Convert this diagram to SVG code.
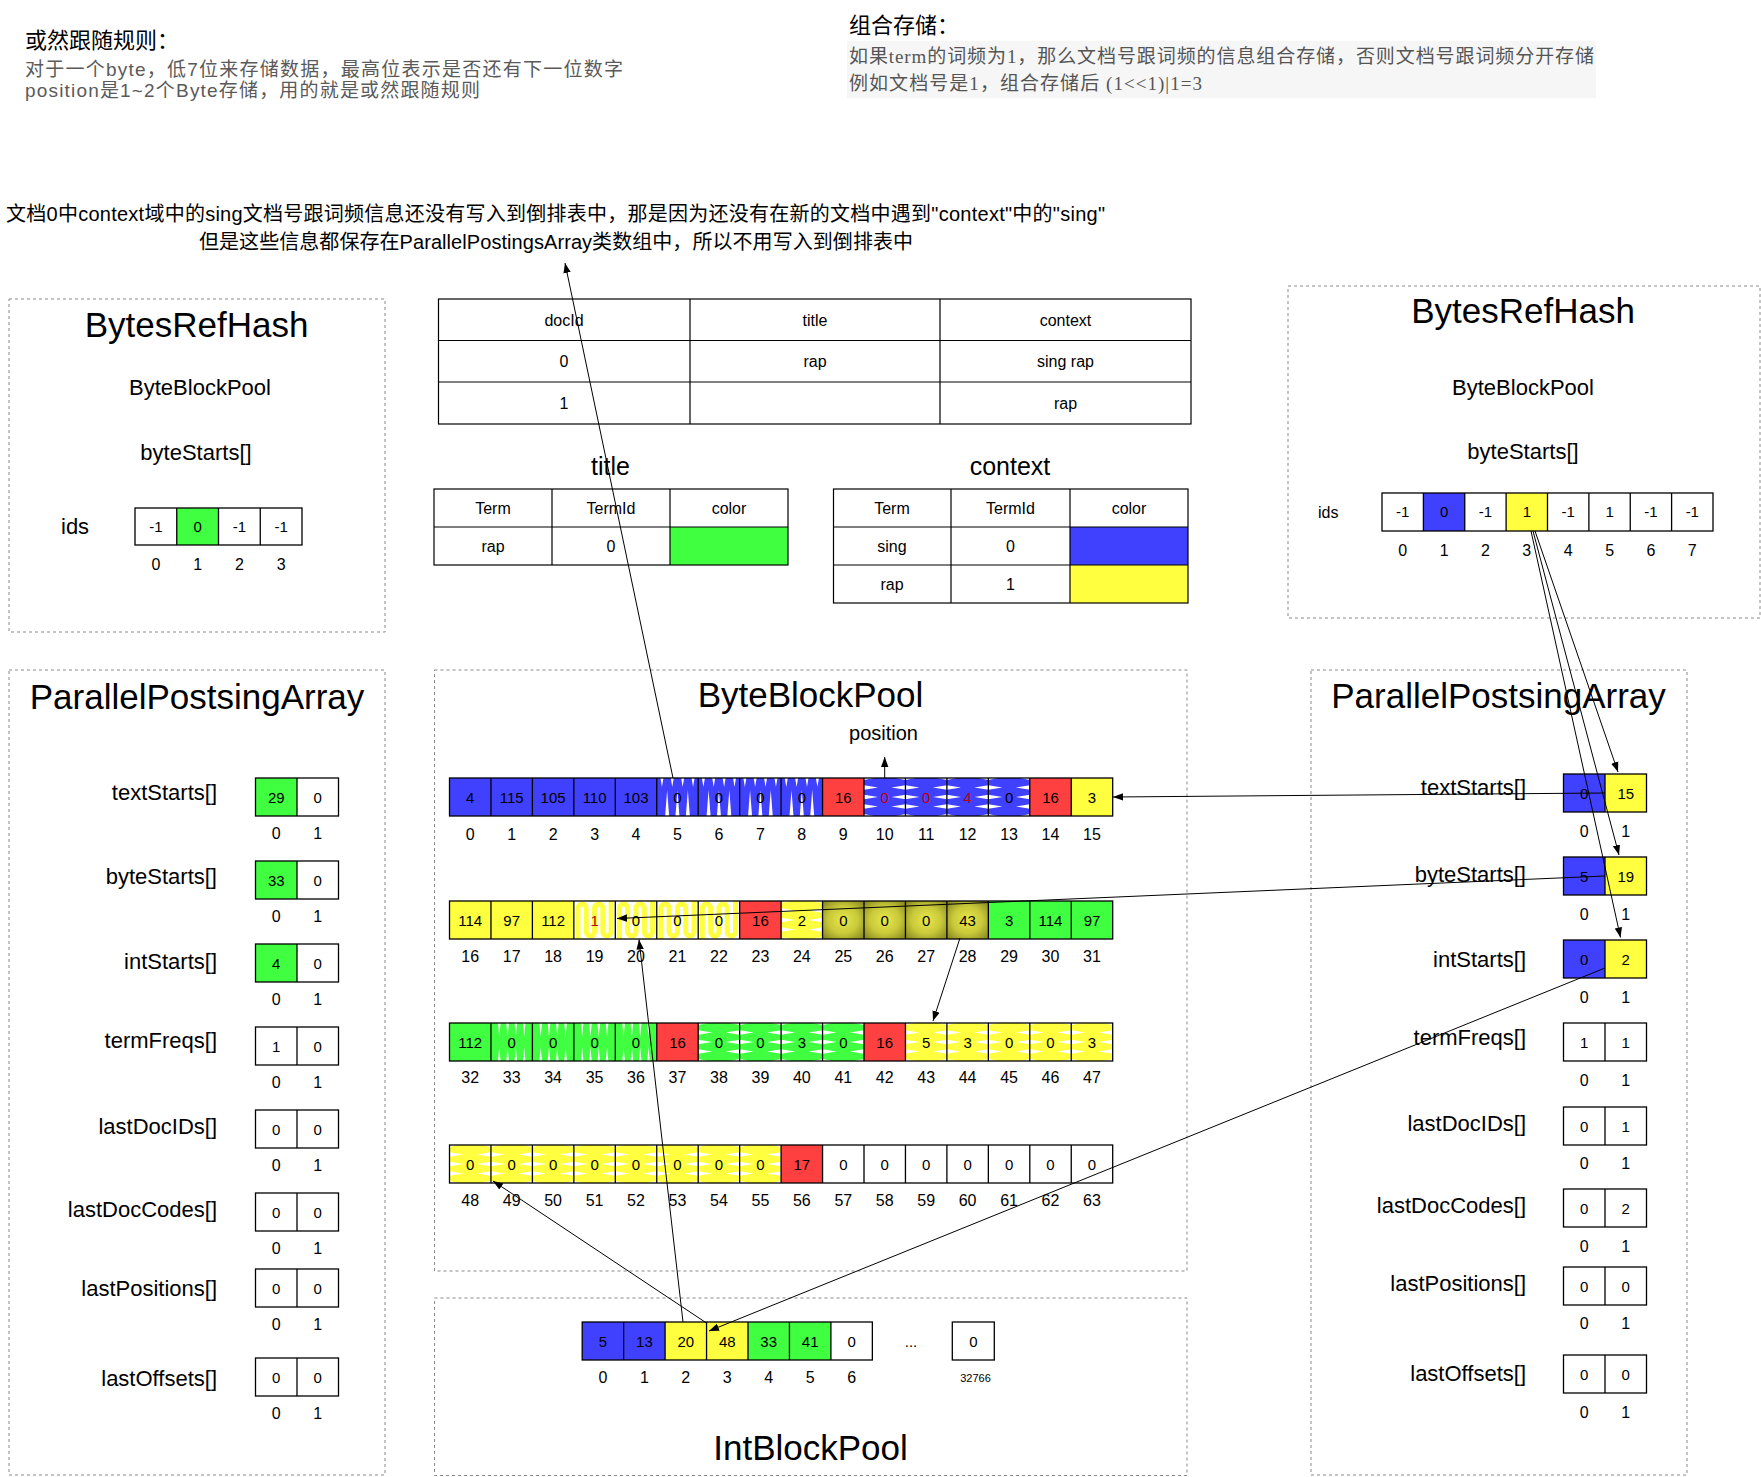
<svg xmlns="http://www.w3.org/2000/svg" width="1761" height="1477" viewBox="0 0 1761 1477">
<style>
text{font-family:"Liberation Sans",Arial,"Noto Sans CJK SC",sans-serif;fill:#000}
.cjk{font-family:"Liberation Sans","Noto Sans CJK SC",sans-serif}
.ser{font-family:"Liberation Serif","Noto Sans CJK SC",serif;fill:#555;font-size:19px}
.gr{fill:#5a5a5a;font-size:19px}
.c{fill:none;stroke:#000;stroke-width:1.3}
.tb{fill:none;stroke:#000;stroke-width:1.2}
.box{fill:none;stroke:#8a8a8a;stroke-width:1;stroke-dasharray:3 3}
.t{font-size:15px;text-anchor:middle}
.tt{font-size:16px;text-anchor:middle}
.ix{font-size:16px;text-anchor:middle}
.lb{font-size:22px;text-anchor:end}
.ttl{font-size:35px;text-anchor:middle}
.sub{font-size:22px;text-anchor:middle}
.cap{font-size:25px;text-anchor:middle}
.red{fill:#c00000}
.B{fill:#4040ff}.G{fill:#40ff40}.Y{fill:#ffff40}.R{fill:#ff4040}.O{fill:url(#olv)}
.wh{fill:#fff}
.cn{fill:none;stroke:#000;stroke-width:1;marker-end:url(#arr)}
</style>
<defs>
<marker id="arr" markerUnits="userSpaceOnUse" markerWidth="10" markerHeight="10" viewBox="0 0 10 10" refX="10" refY="5" orient="auto"><path d="M0,1.3 L10,5 L0,8.7 z" fill="#000"/></marker>
<radialGradient id="olv" cx="50%" cy="50%" r="65%"><stop offset="0" stop-color="#e8e84c"/><stop offset="0.55" stop-color="#c9c93a"/><stop offset="1" stop-color="#8c8c22"/></radialGradient>
<g id="vwedge"><path class="wh" d="M8.4,38 L10.4,12 L12.4,38Z M18.7,38 L20.7,12 L22.7,38Z M29.1,38 L31.1,12 L33.1,38Z M3.7,0 L5.2,9 L6.7,0Z M14,0 L15.5,9 L17,0Z M24.4,0 L25.9,9 L27.4,0Z M34.8,0 L36.3,9 L37.8,0Z"/></g>
<g id="hwedge"><path class="wh" d="M0,7.3 L14,9.5 L0,11.7Z M0,16.8 L14,19 L0,21.2Z M0,26.3 L14,28.5 L0,30.7Z M41.45,7.3 L27.45,9.5 L41.45,11.7Z M41.45,16.8 L27.45,19 L41.45,21.2Z M41.45,26.3 L27.45,28.5 L41.45,30.7Z M0,0 L10,0 L0,2Z M41.45,0 L31.45,0 L41.45,2Z M0,38 L10,38 L0,36Z M41.45,38 L31.45,38 L41.45,36Z"/></g>
<g id="gwedge"><path class="wh" d="M7,0 L8.3,14 L9.6,0Z M15.3,0 L16.6,14 L17.9,0Z M23.6,0 L24.9,14 L26.2,0Z M31.9,0 L33.2,14 L34.5,0Z M7,38 L8.3,24 L9.6,38Z M15.3,38 L16.6,24 L17.9,38Z M23.6,38 L24.9,24 L26.2,38Z M31.9,38 L33.2,24 L34.5,38Z"/></g>
<symbol id="vB" viewBox="0 0 41.45 38"><rect width="41.45" height="38" class="B"/><use href="#vwedge"/></symbol>
<symbol id="vG" viewBox="0 0 41.45 38"><rect width="41.45" height="38" class="G"/><use href="#gwedge"/></symbol>
<symbol id="vY" viewBox="0 0 41.45 38"><rect width="41.45" height="38" fill="#fff"/><path d="M4.1,40 V7.2 A4.15,4.15 0 0 1 12.4,7.2 V30.8 A4.15,4.15 0 0 0 20.7,30.8 V7.2 A4.15,4.15 0 0 1 29,7.2 V30.8 A4.15,4.15 0 0 0 37.3,30.8 V-2" fill="none" stroke="#ffff40" stroke-width="5"/></symbol>
<symbol id="hB" viewBox="0 0 41.45 38"><rect width="41.45" height="38" class="B"/><use href="#hwedge"/></symbol>
<symbol id="hG" viewBox="0 0 41.45 38"><rect width="41.45" height="38" class="G"/><use href="#hwedge"/></symbol>
<symbol id="hY" viewBox="0 0 41.45 38"><rect width="41.45" height="38" class="Y"/><use href="#hwedge"/></symbol>
<g id="divs"><rect class="c" x="449.5" y="0" width="663.2" height="38"/><path class="c" d="M490.95 0v38M532.4 0v38M573.85 0v38M615.3 0v38M656.75 0v38M698.2 0v38M739.65 0v38M781.1 0v38M822.55 0v38M864 0v38M905.45 0v38M946.9 0v38M988.35 0v38M1029.8 0v38M1071.25 0v38"/></g>
<g id="pair"><rect class="c" x="0" y="0" width="83" height="38"/><path class="c" d="M41.5 0v38"/></g>
</defs>

<rect width="1761" height="1477" fill="#fff"/>

<g id="note-left">
<text class="cjk" x="25" y="48" font-size="22" fill="#1a1a1a">或然跟随规则：</text>
<text class="cjk gr" x="25" y="76" textLength="598" lengthAdjust="spacing">对于一个byte，低7位来存储数据，最高位表示是否还有下一位数字</text>
<text class="cjk gr" x="25" y="97" textLength="455" lengthAdjust="spacing">position是1~2个Byte存储，用的就是或然跟随规则</text>
</g>

<g id="note-right">
<text class="cjk" x="849" y="33" font-size="22" fill="#1a1a1a">组合存储：</text>
<rect x="847" y="41" width="749" height="57" fill="#f6f6f6"/>
<text class="ser" x="849" y="63" textLength="745" lengthAdjust="spacing">如果term的词频为1，那么文档号跟词频的信息组合存储，否则文档号跟词频分开存储</text>
<text class="ser" x="849" y="90" textLength="353" lengthAdjust="spacing">例如文档号是1，组合存储后 (1&lt;&lt;1)|1=3</text>
</g>

<g id="note-center">
<text class="cjk" x="6" y="221" font-size="20" textLength="1099" lengthAdjust="spacing">文档0中context域中的sing文档号跟词频信息还没有写入到倒排表中，那是因为还没有在新的文档中遇到"context"中的"sing"</text>
<text class="cjk" x="199" y="249" font-size="20" textLength="714" lengthAdjust="spacing">但是这些信息都保存在ParallelPostingsArray类数组中，所以不用写入到倒排表中</text>
</g>

<g id="doc-table">
<rect class="tb" x="438.5" y="299" width="752.5" height="125"/>
<path class="tb" d="M438.5 340.5H1191M438.5 382H1191M690 299v125M940 299v125"/>
<text class="tt" x="564" y="325.5">docId</text>
<text class="tt" x="815" y="325.5">title</text>
<text class="tt" x="1065.5" y="325.5">context</text>
<text class="tt" x="564" y="367">0</text>
<text class="tt" x="815" y="367">rap</text>
<text class="tt" x="1065.5" y="367">sing rap</text>
<text class="tt" x="564" y="408.5">1</text>
<text class="tt" x="1065.5" y="408.5">rap</text>
</g>

<g id="title-table">
<text class="cap" x="610.5" y="475">title</text>
<rect class="G" x="670" y="527" width="118" height="38"/>
<rect class="tb" x="434" y="489" width="354" height="76"/>
<path class="tb" d="M434 527H788M552 489v76M670 489v76"/>
<text class="tt" x="493" y="513.5">Term</text>
<text class="tt" x="611" y="513.5">TermId</text>
<text class="tt" x="729" y="513.5">color</text>
<text class="tt" x="493" y="551.5">rap</text>
<text class="tt" x="611" y="551.5">0</text>
</g>

<g id="context-table">
<text class="cap" x="1010" y="475">context</text>
<rect class="B" x="1070" y="527" width="118" height="38"/>
<rect class="Y" x="1070" y="565" width="118" height="38"/>
<rect class="tb" x="833.5" y="489" width="354.5" height="114"/>
<path class="tb" d="M833.5 527H1188M833.5 565H1188M951 489v114M1070 489v114"/>
<text class="tt" x="892" y="513.5">Term</text>
<text class="tt" x="1010.5" y="513.5">TermId</text>
<text class="tt" x="1129" y="513.5">color</text>
<text class="tt" x="892" y="551.5">sing</text>
<text class="tt" x="1010.5" y="551.5">0</text>
<text class="tt" x="892" y="589.5">rap</text>
<text class="tt" x="1010.5" y="589.5">1</text>
</g>

<g id="bytesrefhash-left">
<rect class="box" x="9" y="299" width="376" height="333"/>
<text class="ttl" x="196.5" y="337">BytesRefHash</text>
<text class="sub" x="200" y="395">ByteBlockPool</text>
<text class="sub" x="196" y="460">byteStarts[]</text>
<text x="61" y="534" font-size="22">ids</text>
<rect class="G" x="176.75" y="508" width="41.75" height="37"/>
<rect class="c" x="135" y="508" width="167" height="37"/>
<path class="c" d="M176.75 508v37M218.5 508v37M260.25 508v37"/>
<text class="t" x="155.9" y="532">-1</text>
<text class="t" x="197.6" y="532">0</text>
<text class="t" x="239.4" y="532">-1</text>
<text class="t" x="281.1" y="532">-1</text>
<text class="ix" x="155.9" y="570">0</text>
<text class="ix" x="197.6" y="570">1</text>
<text class="ix" x="239.4" y="570">2</text>
<text class="ix" x="281.1" y="570">3</text>
</g>

<g id="bytesrefhash-right">
<rect class="box" x="1288" y="286" width="472" height="332"/>
<text class="ttl" x="1523" y="323">BytesRefHash</text>
<text class="sub" x="1523" y="395">ByteBlockPool</text>
<text class="sub" x="1523" y="459">byteStarts[]</text>
<text x="1318" y="518" font-size="16">ids</text>
<rect class="B" x="1423.4" y="493" width="41.35" height="38"/>
<rect class="Y" x="1506.1" y="493" width="41.4" height="38"/>
<rect class="c" x="1382" y="493" width="331" height="38"/>
<path class="c" d="M1423.4 493v38M1464.75 493v38M1506.1 493v38M1547.5 493v38M1588.9 493v38M1630.25 493v38M1671.6 493v38"/>
<text class="t" x="1402.7" y="517">-1</text>
<text class="t" x="1444.1" y="517">0</text>
<text class="t" x="1485.4" y="517">-1</text>
<text class="t" x="1526.8" y="517">1</text>
<text class="t" x="1568.2" y="517">-1</text>
<text class="t" x="1609.6" y="517">1</text>
<text class="t" x="1650.9" y="517">-1</text>
<text class="t" x="1692.3" y="517">-1</text>
<text class="ix" x="1402.7" y="556">0</text>
<text class="ix" x="1444.1" y="556">1</text>
<text class="ix" x="1485.4" y="556">2</text>
<text class="ix" x="1526.8" y="556">3</text>
<text class="ix" x="1568.2" y="556">4</text>
<text class="ix" x="1609.6" y="556">5</text>
<text class="ix" x="1650.9" y="556">6</text>
<text class="ix" x="1692.3" y="556">7</text>
</g>

<g id="ppa-left">
<rect class="box" x="9" y="670" width="376" height="805"/>
<text class="ttl" x="197" y="709">ParallelPostsingArray</text>
<rect class="G" x="255.5" y="778" width="41.5" height="38"/>
<rect class="G" x="255.5" y="861" width="41.5" height="38"/>
<rect class="G" x="255.5" y="944" width="41.5" height="38"/>
<use href="#pair" x="255.5" y="778"/>
<use href="#pair" x="255.5" y="861"/>
<use href="#pair" x="255.5" y="944"/>
<use href="#pair" x="255.5" y="1027"/>
<use href="#pair" x="255.5" y="1110"/>
<use href="#pair" x="255.5" y="1193"/>
<use href="#pair" x="255.5" y="1269"/>
<use href="#pair" x="255.5" y="1358"/>
<text class="lb" x="217" y="800">textStarts[]</text>
<text class="lb" x="217" y="884">byteStarts[]</text>
<text class="lb" x="217" y="969">intStarts[]</text>
<text class="lb" x="217" y="1048">termFreqs[]</text>
<text class="lb" x="217" y="1134">lastDocIDs[]</text>
<text class="lb" x="217" y="1217">lastDocCodes[]</text>
<text class="lb" x="217" y="1296">lastPositions[]</text>
<text class="lb" x="217" y="1386">lastOffsets[]</text>
<text class="t" x="276.25" y="802.5">29</text><text class="t" x="317.75" y="802.5">0</text>
<text class="t" x="276.25" y="885.5">33</text><text class="t" x="317.75" y="885.5">0</text>
<text class="t" x="276.25" y="968.5">4</text><text class="t" x="317.75" y="968.5">0</text>
<text class="t" x="276.25" y="1051.5">1</text><text class="t" x="317.75" y="1051.5">0</text>
<text class="t" x="276.25" y="1134.5">0</text><text class="t" x="317.75" y="1134.5">0</text>
<text class="t" x="276.25" y="1217.5">0</text><text class="t" x="317.75" y="1217.5">0</text>
<text class="t" x="276.25" y="1293.5">0</text><text class="t" x="317.75" y="1293.5">0</text>
<text class="t" x="276.25" y="1382.5">0</text><text class="t" x="317.75" y="1382.5">0</text>
<text class="ix" x="276.25" y="839">0</text><text class="ix" x="317.75" y="839">1</text>
<text class="ix" x="276.25" y="922">0</text><text class="ix" x="317.75" y="922">1</text>
<text class="ix" x="276.25" y="1005">0</text><text class="ix" x="317.75" y="1005">1</text>
<text class="ix" x="276.25" y="1088">0</text><text class="ix" x="317.75" y="1088">1</text>
<text class="ix" x="276.25" y="1171">0</text><text class="ix" x="317.75" y="1171">1</text>
<text class="ix" x="276.25" y="1254">0</text><text class="ix" x="317.75" y="1254">1</text>
<text class="ix" x="276.25" y="1330">0</text><text class="ix" x="317.75" y="1330">1</text>
<text class="ix" x="276.25" y="1419">0</text><text class="ix" x="317.75" y="1419">1</text>
</g>

<g id="ppa-right">
<rect class="box" x="1311" y="670" width="376" height="805"/>
<text class="ttl" x="1498.5" y="708">ParallelPostsingArray</text>
<rect class="B" x="1563.5" y="774" width="41.5" height="38"/><rect class="Y" x="1605" y="774" width="41.5" height="38"/>
<rect class="B" x="1563.5" y="857" width="41.5" height="38"/><rect class="Y" x="1605" y="857" width="41.5" height="38"/>
<rect class="B" x="1563.5" y="940" width="41.5" height="38"/><rect class="Y" x="1605" y="940" width="41.5" height="38"/>
<use href="#pair" x="1563.5" y="774"/>
<use href="#pair" x="1563.5" y="857"/>
<use href="#pair" x="1563.5" y="940"/>
<use href="#pair" x="1563.5" y="1023"/>
<use href="#pair" x="1563.5" y="1107"/>
<use href="#pair" x="1563.5" y="1189"/>
<use href="#pair" x="1563.5" y="1267"/>
<use href="#pair" x="1563.5" y="1355"/>
<text class="lb" x="1526" y="795">textStarts[]</text>
<text class="lb" x="1526" y="882">byteStarts[]</text>
<text class="lb" x="1526" y="967">intStarts[]</text>
<text class="lb" x="1526" y="1045">termFreqs[]</text>
<text class="lb" x="1526" y="1131">lastDocIDs[]</text>
<text class="lb" x="1526" y="1213">lastDocCodes[]</text>
<text class="lb" x="1526" y="1291">lastPositions[]</text>
<text class="lb" x="1526" y="1381">lastOffsets[]</text>
<text class="t" x="1584.25" y="798.5">0</text><text class="t" x="1625.75" y="798.5">15</text>
<text class="t" x="1584.25" y="881.5">5</text><text class="t" x="1625.75" y="881.5">19</text>
<text class="t" x="1584.25" y="964.5">0</text><text class="t" x="1625.75" y="964.5">2</text>
<text class="t" x="1584.25" y="1047.5">1</text><text class="t" x="1625.75" y="1047.5">1</text>
<text class="t" x="1584.25" y="1131.5">0</text><text class="t" x="1625.75" y="1131.5">1</text>
<text class="t" x="1584.25" y="1213.5">0</text><text class="t" x="1625.75" y="1213.5">2</text>
<text class="t" x="1584.25" y="1291.5">0</text><text class="t" x="1625.75" y="1291.5">0</text>
<text class="t" x="1584.25" y="1379.5">0</text><text class="t" x="1625.75" y="1379.5">0</text>
<text class="ix" x="1584.25" y="837">0</text><text class="ix" x="1625.75" y="837">1</text>
<text class="ix" x="1584.25" y="920">0</text><text class="ix" x="1625.75" y="920">1</text>
<text class="ix" x="1584.25" y="1003">0</text><text class="ix" x="1625.75" y="1003">1</text>
<text class="ix" x="1584.25" y="1086">0</text><text class="ix" x="1625.75" y="1086">1</text>
<text class="ix" x="1584.25" y="1169">0</text><text class="ix" x="1625.75" y="1169">1</text>
<text class="ix" x="1584.25" y="1252">0</text><text class="ix" x="1625.75" y="1252">1</text>
<text class="ix" x="1584.25" y="1329">0</text><text class="ix" x="1625.75" y="1329">1</text>
<text class="ix" x="1584.25" y="1418">0</text><text class="ix" x="1625.75" y="1418">1</text>
</g>

<g id="byteblockpool">
<rect class="box" x="434.5" y="670" width="752.5" height="601"/>
<text class="ttl" x="810.5" y="707">ByteBlockPool</text>
<text x="883.5" y="740" font-size="20" text-anchor="middle">position</text>
<rect class="B" x="449.5" y="778" width="207.25" height="38"/>
<use href="#vB" x="656.75" y="778" width="41.45" height="38"/>
<use href="#vB" x="698.2" y="778" width="41.45" height="38"/>
<use href="#vB" x="739.65" y="778" width="41.45" height="38"/>
<use href="#vB" x="781.1" y="778" width="41.45" height="38"/>
<rect class="R" x="822.55" y="778" width="41.45" height="38"/>
<use href="#hB" x="864" y="778" width="41.45" height="38"/>
<use href="#hB" x="905.45" y="778" width="41.45" height="38"/>
<use href="#hB" x="946.9" y="778" width="41.45" height="38"/>
<use href="#hB" x="988.35" y="778" width="41.45" height="38"/>
<rect class="R" x="1029.8" y="778" width="41.45" height="38"/>
<rect class="Y" x="1071.25" y="778" width="41.45" height="38"/>
<use href="#divs" y="778"/>
<text class="t" x="470.2" y="802.5">4</text><text class="t" x="511.7" y="802.5">115</text><text class="t" x="553.1" y="802.5">105</text><text class="t" x="594.6" y="802.5">110</text><text class="t" x="636" y="802.5">103</text><text class="t" x="677.5" y="802.5">0</text><text class="t" x="718.9" y="802.5">0</text><text class="t" x="760.4" y="802.5">0</text><text class="t" x="801.8" y="802.5">0</text><text class="t" x="843.3" y="802.5">16</text><text class="t red" x="884.7" y="802.5">0</text><text class="t red" x="926.2" y="802.5">0</text><text class="t red" x="967.6" y="802.5">4</text><text class="t" x="1009.1" y="802.5">0</text><text class="t" x="1050.5" y="802.5">16</text><text class="t" x="1092" y="802.5">3</text>
<text class="ix" x="470.2" y="840">0</text><text class="ix" x="511.7" y="840">1</text><text class="ix" x="553.1" y="840">2</text><text class="ix" x="594.6" y="840">3</text><text class="ix" x="636" y="840">4</text><text class="ix" x="677.5" y="840">5</text><text class="ix" x="718.9" y="840">6</text><text class="ix" x="760.4" y="840">7</text><text class="ix" x="801.8" y="840">8</text><text class="ix" x="843.3" y="840">9</text><text class="ix" x="884.7" y="840">10</text><text class="ix" x="926.2" y="840">11</text><text class="ix" x="967.6" y="840">12</text><text class="ix" x="1009.1" y="840">13</text><text class="ix" x="1050.5" y="840">14</text><text class="ix" x="1092" y="840">15</text>
<rect class="Y" x="449.5" y="901" width="124.35" height="38"/>
<use href="#vY" x="573.85" y="901" width="41.45" height="38"/>
<use href="#vY" x="615.3" y="901" width="41.45" height="38"/>
<use href="#vY" x="656.75" y="901" width="41.45" height="38"/>
<use href="#vY" x="698.2" y="901" width="41.45" height="38"/>
<rect class="R" x="739.65" y="901" width="41.45" height="38"/>
<use href="#hY" x="781.1" y="901" width="41.45" height="38"/>
<rect class="O" x="822.55" y="901" width="41.45" height="38"/>
<rect class="O" x="864" y="901" width="41.45" height="38"/>
<rect class="O" x="905.45" y="901" width="41.45" height="38"/>
<rect class="O" x="946.9" y="901" width="41.45" height="38"/>
<rect class="G" x="988.35" y="901" width="124.35" height="38"/>
<use href="#divs" y="901"/>
<text class="t" x="470.2" y="925.5">114</text><text class="t" x="511.7" y="925.5">97</text><text class="t" x="553.1" y="925.5">112</text><text class="t red" x="594.6" y="925.5">1</text><text class="t" x="636" y="925.5">0</text><text class="t" x="677.5" y="925.5">0</text><text class="t" x="718.9" y="925.5">0</text><text class="t" x="760.4" y="925.5">16</text><text class="t" x="801.8" y="925.5">2</text><text class="t" x="843.3" y="925.5">0</text><text class="t" x="884.7" y="925.5">0</text><text class="t" x="926.2" y="925.5">0</text><text class="t" x="967.6" y="925.5">43</text><text class="t" x="1009.1" y="925.5">3</text><text class="t" x="1050.5" y="925.5">114</text><text class="t" x="1092" y="925.5">97</text>
<text class="ix" x="470.2" y="962">16</text><text class="ix" x="511.7" y="962">17</text><text class="ix" x="553.1" y="962">18</text><text class="ix" x="594.6" y="962">19</text><text class="ix" x="636" y="962">20</text><text class="ix" x="677.5" y="962">21</text><text class="ix" x="718.9" y="962">22</text><text class="ix" x="760.4" y="962">23</text><text class="ix" x="801.8" y="962">24</text><text class="ix" x="843.3" y="962">25</text><text class="ix" x="884.7" y="962">26</text><text class="ix" x="926.2" y="962">27</text><text class="ix" x="967.6" y="962">28</text><text class="ix" x="1009.1" y="962">29</text><text class="ix" x="1050.5" y="962">30</text><text class="ix" x="1092" y="962">31</text>
<rect class="G" x="449.5" y="1023" width="41.45" height="38"/>
<use href="#vG" x="490.95" y="1023" width="41.45" height="38"/>
<use href="#vG" x="532.4" y="1023" width="41.45" height="38"/>
<use href="#vG" x="573.85" y="1023" width="41.45" height="38"/>
<use href="#vG" x="615.3" y="1023" width="41.45" height="38"/>
<rect class="R" x="656.75" y="1023" width="41.45" height="38"/>
<use href="#hG" x="698.2" y="1023" width="41.45" height="38"/>
<use href="#hG" x="739.65" y="1023" width="41.45" height="38"/>
<use href="#hG" x="781.1" y="1023" width="41.45" height="38"/>
<use href="#hG" x="822.55" y="1023" width="41.45" height="38"/>
<rect class="R" x="864" y="1023" width="41.45" height="38"/>
<use href="#hY" x="905.45" y="1023" width="41.45" height="38"/>
<use href="#hY" x="946.9" y="1023" width="41.45" height="38"/>
<use href="#hY" x="988.35" y="1023" width="41.45" height="38"/>
<use href="#hY" x="1029.8" y="1023" width="41.45" height="38"/>
<use href="#hY" x="1071.25" y="1023" width="41.45" height="38"/>
<use href="#divs" y="1023"/>
<text class="t" x="470.2" y="1047.5">112</text><text class="t" x="511.7" y="1047.5">0</text><text class="t" x="553.1" y="1047.5">0</text><text class="t" x="594.6" y="1047.5">0</text><text class="t" x="636" y="1047.5">0</text><text class="t" x="677.5" y="1047.5">16</text><text class="t" x="718.9" y="1047.5">0</text><text class="t" x="760.4" y="1047.5">0</text><text class="t" x="801.8" y="1047.5">3</text><text class="t" x="843.3" y="1047.5">0</text><text class="t" x="884.7" y="1047.5">16</text><text class="t" x="926.2" y="1047.5">5</text><text class="t" x="967.6" y="1047.5">3</text><text class="t" x="1009.1" y="1047.5">0</text><text class="t" x="1050.5" y="1047.5">0</text><text class="t" x="1092" y="1047.5">3</text>
<text class="ix" x="470.2" y="1083">32</text><text class="ix" x="511.7" y="1083">33</text><text class="ix" x="553.1" y="1083">34</text><text class="ix" x="594.6" y="1083">35</text><text class="ix" x="636" y="1083">36</text><text class="ix" x="677.5" y="1083">37</text><text class="ix" x="718.9" y="1083">38</text><text class="ix" x="760.4" y="1083">39</text><text class="ix" x="801.8" y="1083">40</text><text class="ix" x="843.3" y="1083">41</text><text class="ix" x="884.7" y="1083">42</text><text class="ix" x="926.2" y="1083">43</text><text class="ix" x="967.6" y="1083">44</text><text class="ix" x="1009.1" y="1083">45</text><text class="ix" x="1050.5" y="1083">46</text><text class="ix" x="1092" y="1083">47</text>
<use href="#hY" x="449.5" y="1145" width="41.45" height="38"/>
<use href="#hY" x="490.95" y="1145" width="41.45" height="38"/>
<use href="#hY" x="532.4" y="1145" width="41.45" height="38"/>
<use href="#hY" x="573.85" y="1145" width="41.45" height="38"/>
<use href="#hY" x="615.3" y="1145" width="41.45" height="38"/>
<use href="#hY" x="656.75" y="1145" width="41.45" height="38"/>
<use href="#hY" x="698.2" y="1145" width="41.45" height="38"/>
<use href="#hY" x="739.65" y="1145" width="41.45" height="38"/>
<rect class="R" x="781.1" y="1145" width="41.45" height="38"/>
<use href="#divs" y="1145"/>
<text class="t" x="470.2" y="1169.5">0</text><text class="t" x="511.7" y="1169.5">0</text><text class="t" x="553.1" y="1169.5">0</text><text class="t" x="594.6" y="1169.5">0</text><text class="t" x="636" y="1169.5">0</text><text class="t" x="677.5" y="1169.5">0</text><text class="t" x="718.9" y="1169.5">0</text><text class="t" x="760.4" y="1169.5">0</text><text class="t" x="801.8" y="1169.5">17</text><text class="t" x="843.3" y="1169.5">0</text><text class="t" x="884.7" y="1169.5">0</text><text class="t" x="926.2" y="1169.5">0</text><text class="t" x="967.6" y="1169.5">0</text><text class="t" x="1009.1" y="1169.5">0</text><text class="t" x="1050.5" y="1169.5">0</text><text class="t" x="1092" y="1169.5">0</text>
<text class="ix" x="470.2" y="1206">48</text><text class="ix" x="511.7" y="1206">49</text><text class="ix" x="553.1" y="1206">50</text><text class="ix" x="594.6" y="1206">51</text><text class="ix" x="636" y="1206">52</text><text class="ix" x="677.5" y="1206">53</text><text class="ix" x="718.9" y="1206">54</text><text class="ix" x="760.4" y="1206">55</text><text class="ix" x="801.8" y="1206">56</text><text class="ix" x="843.3" y="1206">57</text><text class="ix" x="884.7" y="1206">58</text><text class="ix" x="926.2" y="1206">59</text><text class="ix" x="967.6" y="1206">60</text><text class="ix" x="1009.1" y="1206">61</text><text class="ix" x="1050.5" y="1206">62</text><text class="ix" x="1092" y="1206">63</text>
</g>

<g id="intblockpool">
<rect class="box" x="434.5" y="1298" width="752.5" height="177.5"/>
<rect class="B" x="582.2" y="1322" width="82.9" height="38"/>
<rect class="Y" x="665.1" y="1322" width="82.9" height="38"/>
<rect class="G" x="748" y="1322" width="82.9" height="38"/>
<rect class="c" x="582.2" y="1322" width="290.15" height="38"/>
<path class="c" d="M623.65 1322v38M665.1 1322v38M706.55 1322v38M748 1322v38M789.45 1322v38M830.9 1322v38"/>
<rect class="c" x="952.3" y="1322" width="42" height="38"/>
<text class="t" x="602.9" y="1346.5">5</text><text class="t" x="644.4" y="1346.5">13</text><text class="t" x="685.8" y="1346.5">20</text><text class="t" x="727.3" y="1346.5">48</text><text class="t" x="768.7" y="1346.5">33</text><text class="t" x="810.2" y="1346.5">41</text><text class="t" x="851.6" y="1346.5">0</text>
<text class="t" x="911" y="1346.5">...</text>
<text class="t" x="973.3" y="1346.5">0</text>
<text class="ix" x="602.9" y="1383">0</text><text class="ix" x="644.4" y="1383">1</text><text class="ix" x="685.8" y="1383">2</text><text class="ix" x="727.3" y="1383">3</text><text class="ix" x="768.7" y="1383">4</text><text class="ix" x="810.2" y="1383">5</text><text class="ix" x="851.6" y="1383">6</text>
<text x="975.5" y="1382" font-size="11" text-anchor="middle">32766</text>
<text class="ttl" x="810.5" y="1460">IntBlockPool</text>
</g>

<g id="connectors">
<path class="cn" d="M673,778 L565,263"/>
<path class="cn" d="M884.7,778 L884.7,757"/>
<path class="cn" d="M1605,793 L1113,797"/>
<path class="cn" d="M1605,876 L617,918.5"/>
<path class="cn" d="M1605,968 L709,1331"/>
<path class="cn" d="M1535,531 L1618,772"/>
<path class="cn" d="M1533,531 L1619,855"/>
<path class="cn" d="M1531,531 L1620.5,937.5"/>
<path class="cn" d="M960,938 L933,1021"/>
<path class="cn" d="M683,1322 L639,939.5"/>
<path class="cn" d="M706.5,1323 L493,1181"/>
</g>
</svg>
